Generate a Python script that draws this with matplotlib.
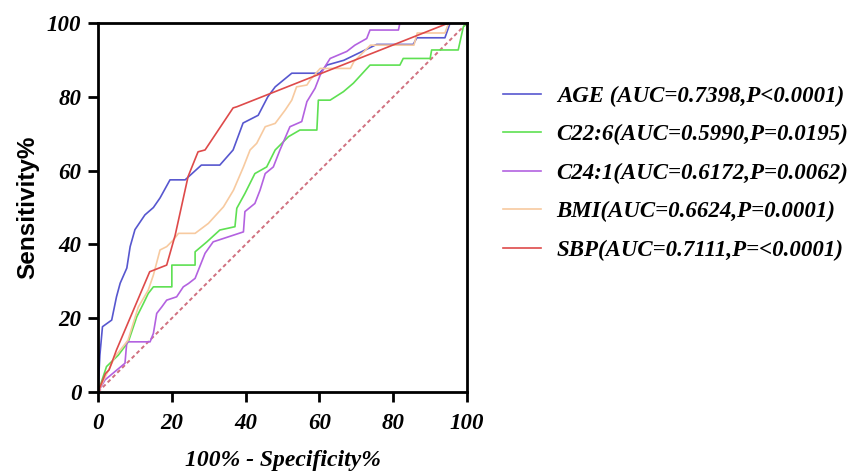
import numpy as np
import matplotlib
matplotlib.use('Agg')
import matplotlib.pyplot as plt
from matplotlib.font_manager import FontProperties

## ROC curve points (100% - specificity, sensitivity), in percent
age_fpr = [0, 0.5, 1.2, 3.7, 5, 6, 7.8, 8.7, 10, 12.7, 15, 16.8, 19.5, 23.6, 28, 33,
           36.6, 39.3, 43.4, 46, 48, 52.5, 60, 62, 66.6, 75.5, 85.4, 86.4, 94, 95.4, 100]
age_tpr = [0, 10, 17.7, 19.5, 25.8, 29.5, 33.6, 39.4, 44, 48, 50, 52.6, 57.5, 57.5, 61.5, 61.5,
           65.6, 72.9, 75, 80, 82.7, 86.4, 86.4, 88.6, 89.9, 94.2, 94.2, 96, 96, 100, 100]

c226_fpr = [0, 2.3, 5.5, 8.2, 10.5, 12.3, 13.6, 15, 20, 20, 26.3, 26.3, 29.5, 33, 37.1, 37.6,
            39.8, 42.5, 45.7, 48, 51.6, 54.7, 59.3, 59.7, 62.9, 66.5, 69.2, 73.7, 81.8, 82.7,
            90, 90.4, 97.6, 99, 100]
c226_tpr = [0, 6.9, 10, 13.6, 20.4, 24, 26.7, 28.5, 28.5, 34.4, 34.4, 38, 40.7, 43.9, 44.8, 49.8,
            53.8, 59.2, 61, 65.6, 69.2, 71, 71, 79.1, 79.1, 81.4, 83.7, 88.6, 88.6, 90.4,
            90.4, 92.7, 92.7, 99, 100]

c241_fpr = [0, 1.9, 7.3, 7.8, 14.1, 15, 15.9, 17.3, 18.6, 21.3, 23.1, 24.5, 26.3, 29, 31.2,
            39.4, 39.8, 42.5, 43.9, 45.3, 47.5, 49.3, 52, 55.2, 56.6, 58.8, 60.2, 61.5, 62.9,
            67.4, 69.6, 72.8, 73.7, 81.4, 81.8, 100]
c241_tpr = [0, 3.3, 7.8, 13.6, 13.6, 15.9, 21.3, 23.1, 24.9, 25.8, 28.5, 29.4, 30.8, 37.6, 40.7,
            43.4, 48.9, 51.1, 54.7, 59.2, 61, 65.6, 71.9, 73.3, 78.7, 82.3, 85.9, 88.2, 90.4,
            92.3, 94, 95.8, 98.1, 98.1, 100, 100]

bmi_fpr = [0, 4.6, 8.1, 10.9, 13.6, 15, 16.8, 18.6, 20.4, 21.8, 26.3, 29.9, 34, 36.7, 39.4,
           41.2, 43, 45.3, 48, 50.7, 52.5, 53.8, 56.6, 57.5, 60.2, 68.4, 69.3, 73.8, 85.6,
           86.5, 94, 95, 100]
bmi_tpr = [0, 9.6, 14, 23, 27.6, 31.7, 38.5, 39.4, 41.2, 43, 43, 45.7, 50.2, 54.7, 61,
           65.6, 67.4, 71.9, 72.8, 76.4, 79.1, 82.7, 83.2, 84.6, 87.7, 87.7, 89.5, 94, 94,
           97.3, 97.3, 100, 100]

sbp_fpr = [0, 2, 3, 5, 14, 18.6, 20.9, 24.4, 27.1, 29, 36.6, 37.6, 95, 100]
sbp_tpr = [0, 5, 6, 11.4, 32.6, 34.4, 42.5, 58.4, 65.1, 65.6, 77, 77.3, 100, 100]

labels = ['AGE (AUC=0.7398,P<0.0001)',
          'C22:6(AUC=0.5990,P=0.0195)',
          'C24:1(AUC=0.6172,P=0.0062)',
          'BMI(AUC=0.6624,P=0.0001)',
          'SBP(AUC=0.7111,P=<0.0001)']
colors = ['#5757cf', '#5ee052', '#b362e0', '#f7caa0', '#de4a4a']

serif = {'family': 'Liberation Serif', 'weight': 'bold', 'style': 'italic'}

fig = plt.figure(figsize=(8.57, 4.71), dpi=100)
ax = fig.add_axes([0.1144, 0.1677, 0.4306, 0.7834])

# chance line
ax.plot([0, 100], [0, 100], ls=(0, (2, 1.5)), color='#d0707f', lw=1.4)
curves = [(age_fpr, age_tpr), (c226_fpr, c226_tpr), (c241_fpr, c241_tpr),
          (bmi_fpr, bmi_tpr), (sbp_fpr, sbp_tpr)]
for (fx, ty), lab, col in zip(curves, labels, colors):
    ax.plot(fx, ty, color=col, lw=1.2, label=lab)

ax.set_xlim(0, 100)
ax.set_ylim(0, 100)
ax.set_xticks(np.arange(0, 101, 20))
ax.set_yticks(np.arange(0, 101, 20))
for s in ax.spines.values():
    s.set_linewidth(2)
ax.tick_params(direction='out', length=7, width=2)
ax.tick_params(axis='x', pad=8)
ax.tick_params(axis='y', pad=5)
for t in ax.get_xticklabels() + ax.get_yticklabels():
    t.set_fontproperties(FontProperties(size=16.5, **serif))

ax.set_xlabel('100% - Specificity%', fontsize=17, va='center', **serif)
ax.xaxis.set_label_coords(0.5, -0.185)
ax.set_ylabel('Sensitivity%', fontsize=17.5, fontweight='bold', family='Liberation Sans',
              va='center')
ax.yaxis.set_label_coords(-0.19, 0.5)

ax.legend(loc='center left', bbox_to_anchor=(1.097, 0.593), frameon=False,
          prop=FontProperties(size=16.5, **serif),
          handlelength=1.65, handletextpad=0.7, labelspacing=0.76,
          borderaxespad=0, borderpad=0)

fig.savefig('out.png', dpi=100)
